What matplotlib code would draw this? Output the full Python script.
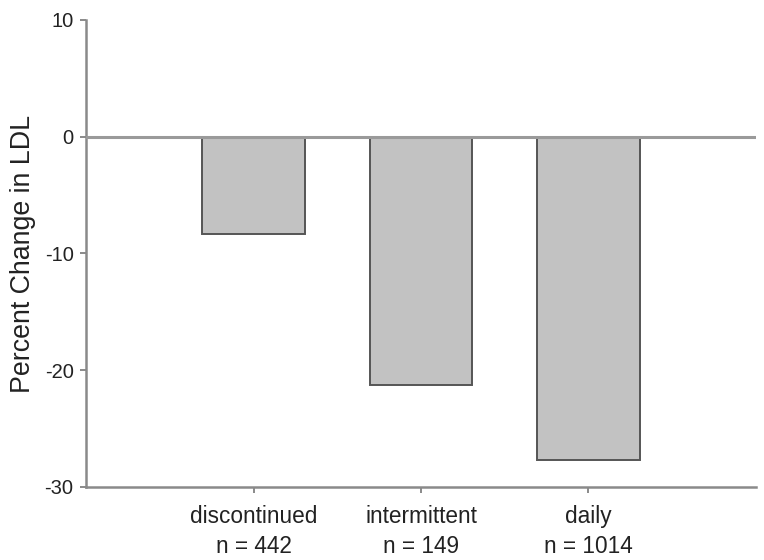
import matplotlib
matplotlib.use("Agg")
import matplotlib.pyplot as plt
import numpy as np

categories = ["discontinued", "intermittent", "daily"]
counts = [442, 149, 1014]
values = [-8.3, -21.3, -27.7]
yticks = [-30, -20, -10, 0, 10]

plt.rcParams['font.family'] = ['Liberation Sans', 'DejaVu Sans']

fig = plt.figure(figsize=(7.64, 5.6), dpi=100)
ax = fig.add_axes([0.1126, 0.1304, 0.9895 - 0.1126, 0.9643 - 0.1304])

x = np.arange(1, len(categories) + 1)
ax.bar(x, values, width=0.61, color="#c2c2c2", edgecolor="#555555", linewidth=1.4, zorder=2)
ax.axhline(0, color="#9a9a9a", linewidth=2.2, zorder=3)

ax.set_xlim(0, 4)
ax.set_ylim(-30, 10)
ax.set_yticks(yticks)
ax.set_yticklabels([str(t) for t in yticks])
ax.set_xticks(x)
ax.set_xticklabels([f"{c}\nn = {n}" for c, n in zip(categories, counts)], linespacing=1.4)

for s in ["top", "right"]:
    ax.spines[s].set_visible(False)
for s in ["left", "bottom"]:
    ax.spines[s].set_color("#8a8a8a")
    ax.spines[s].set_linewidth(1.8)

ax.tick_params(axis="y", length=4, width=1.4, color="#8a8a8a", pad=5, labelsize=14.5, labelcolor="#222222")
ax.tick_params(axis="x", length=4, width=1.4, color="#8a8a8a", pad=9, labelsize=16.3, labelcolor="#222222")
ax.set_ylabel("Percent Change in LDL", fontsize=19.3, color="#222222", labelpad=6)

fig.savefig("out.png", dpi=100)
